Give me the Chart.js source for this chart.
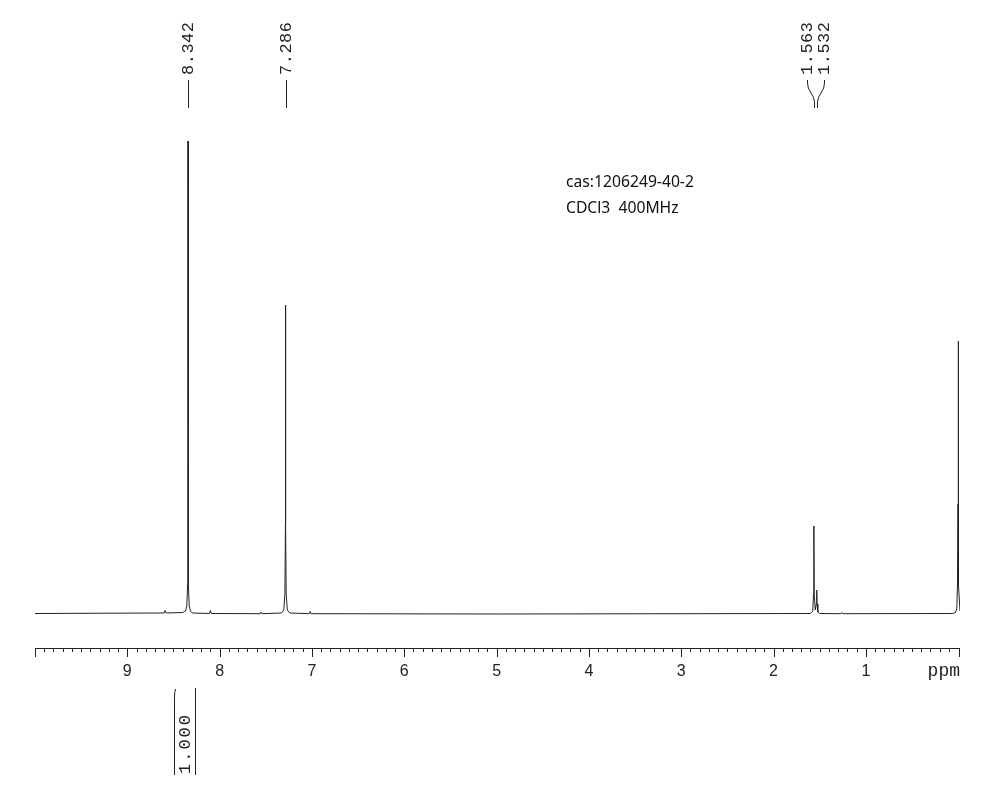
<!DOCTYPE html>
<html lang="en">
<head>
  <meta charset="UTF-8">
  <title>1H NMR</title>
  <script src="https://cdn.jsdelivr.net/npm/chart.js"></script>
  <style>
    body { margin: 0; background: #fff; }
    #wrap { width: 985px; height: 790px; }
  </style>
</head>
<body>
  <div id="wrap"><canvas id="nmrChart" width="985" height="790"></canvas></div>
<script>
  // spectrum points (ppm, relative intensity)
  const ppm = [10.0, 9.2, 8.60, 8.59, 8.58, 8.40, 8.37, 8.355, 8.347, 8.343, 8.342, 8.341, 8.337, 8.329, 8.315, 8.29,
    8.11, 8.10, 8.09, 7.56, 7.55, 7.54, 7.33, 7.305, 7.293, 7.287, 7.286, 7.285, 7.279, 7.267, 7.24,
    7.03, 7.02, 7.01, 5.0, 1.60, 1.575, 1.567, 1.563, 1.559, 1.548, 1.536, 1.532, 1.528, 1.52, 1.50,
    1.27, 1.26, 1.25, 0.06, 0.03, 0.015, 0.007, 0.001, 0.0, -0.001, -0.007, -0.02];
  const intensity = [0.5, 0.8, 1, 3.5, 1, 1.5, 3, 8, 30, 120, 473, 120, 30, 8, 2.5, 1,
    0.5, 3.5, 0.5, 0.3, 2, 0.3, 1, 4, 20, 90, 309, 90, 20, 4, 1,
    0.3, 2.5, 0.3, 0, 0.5, 3, 20, 88, 20, 4, 10, 24, 10, 2, 0.5,
    0.3, 1.5, 0.3, 0.5, 1.5, 5, 30, 110, 273, 110, 30, 3];

  // peak picking labels
  const peakPpm = [8.342, 7.286, 1.563, 1.532];
  const peakLabels = ['8.342', '7.286', '1.563', '1.532'];

  // integrals
  const integralFrom = [8.49];
  const integralTo = [8.27];
  const integralLabels = ['1.000'];

  // axis
  const majorTicks = [9, 8, 7, 6, 5, 4, 3, 2, 1];
  const tickLabels = ['9', '8', '7', '6', '5', '4', '3', '2', '1'];
  const axisUnit = 'ppm';

  const noteLines = ['cas:1206249-40-2', 'CDCl3  400MHz'];

  const points = ppm.map((p, i) => ({ x: p, y: intensity[i] }));

  const nmrDecor = {
    id: 'nmrDecor',
    afterDraw(chart) {
      const ctx = chart.ctx;
      const xs = chart.scales.x;
      const area = chart.chartArea;
      const axisY = area.bottom;
      ctx.save();
      ctx.strokeStyle = '#222';
      ctx.fillStyle = '#222';
      ctx.lineWidth = 1;

      // axis line
      ctx.beginPath();
      ctx.moveTo(area.left, axisY + 0.5);
      ctx.lineTo(area.right, axisY + 0.5);
      ctx.stroke();

      // minor ticks every 0.1 ppm
      ctx.beginPath();
      for (let i = 1; i < 100; i++) {
        if (i % 10 === 0) continue;
        const px = Math.round(xs.getPixelForValue(i / 10)) + 0.5;
        ctx.moveTo(px, axisY);
        ctx.lineTo(px, axisY + 4);
      }
      // major ticks + end ticks
      majorTicks.forEach(v => {
        const px = Math.round(xs.getPixelForValue(v)) + 0.5;
        ctx.moveTo(px, axisY);
        ctx.lineTo(px, axisY + 9);
      });
      [area.left, area.right - 1].forEach(px => {
        ctx.moveTo(Math.round(px) + 0.5, axisY);
        ctx.lineTo(Math.round(px) + 0.5, axisY + 9);
      });
      ctx.stroke();

      ctx.font = '16px "Liberation Sans"';
      ctx.textAlign = 'center';
      ctx.textBaseline = 'middle';
      majorTicks.forEach((v, i) => {
        ctx.fillText(tickLabels[i], xs.getPixelForValue(v), axisY + 24);
      });
      ctx.font = '18px "Liberation Mono"';
      ctx.textAlign = 'right';
      ctx.fillText(axisUnit, area.right, axisY + 23);

      // peak labels (spread when crowded)
      const peakPx = peakPpm.map(p => xs.getPixelForValue(p));
      const labelPx = peakPx.slice();
      const gap = 17;
      let start = 0;
      for (let i = 1; i <= peakPx.length; i++) {
        if (i === peakPx.length || peakPx[i] - peakPx[i - 1] > gap) {
          const n = i - start;
          if (n > 1) {
            let mean = 0;
            for (let k = start; k < i; k++) mean += peakPx[k];
            mean /= n;
            for (let k = start; k < i; k++) labelPx[k] = mean + (k - start - (n - 1) / 2) * gap;
          }
          start = i;
        }
      }
      ctx.font = '17px "Liberation Mono"';
      ctx.letterSpacing = '0.5px';
      ctx.textAlign = 'left';
      ctx.textBaseline = 'middle';
      peakLabels.forEach((t, i) => {
        ctx.save();
        ctx.translate(Math.round(labelPx[i]) + 0.5, 75);
        ctx.rotate(-Math.PI / 2);
        ctx.fillText(t, 0, 0);
        ctx.restore();
        const lx = Math.round(labelPx[i]) + 0.5;
        const px = Math.round(peakPx[i]) + 0.5;
        ctx.beginPath();
        ctx.moveTo(lx, 80);
        if (lx !== px) {
          ctx.lineTo(lx, 83);
          ctx.quadraticCurveTo(lx, 88, (lx + px) / 2, 93);
          ctx.quadraticCurveTo(px, 98, px, 102);
        }
        ctx.lineTo(px, 108);
        ctx.stroke();
      });

      // integrals under the axis
      ctx.letterSpacing = '2px';
      integralLabels.forEach((t, i) => {
        const a = Math.round(xs.getPixelForValue(integralFrom[i])) + 0.5;
        const b = Math.round(xs.getPixelForValue(integralTo[i])) + 0.5;
        ctx.beginPath();
        ctx.moveTo(a + 1, 689);
        ctx.quadraticCurveTo(a, 692, a, 698);
        ctx.lineTo(a, 775);
        ctx.moveTo(b, 688);
        ctx.lineTo(b, 775);
        ctx.stroke();
        ctx.save();
        ctx.translate((a + b) / 2, 774);
        ctx.rotate(-Math.PI / 2);
        ctx.fillText(t, 0, 0);
        ctx.restore();
      });
      ctx.letterSpacing = '0px';

      // sample note
      ctx.fillStyle = '#111';
      ctx.font = '15.7px "Noto Sans"';
      ctx.textAlign = 'left';
      noteLines.forEach((t, i) => ctx.fillText(t, 566, 183 + i * 26));
      ctx.restore();
    }
  };

  new Chart(document.getElementById('nmrChart').getContext('2d'), {
    type: 'scatter',
    data: {
      datasets: [{
        data: points,
        showLine: true,
        borderColor: '#222',
        borderWidth: 1,
        pointRadius: 0,
        tension: 0
      }]
    },
    options: {
      responsive: false,
      animation: false,
      devicePixelRatio: 1,
      layout: { padding: { left: 35, right: 25, top: 100, bottom: 142 } },
      plugins: { legend: { display: false }, tooltip: { enabled: false } },
      scales: {
        x: { type: 'linear', reverse: true, min: -0.02, max: 10, display: false },
        y: { min: -34, max: 514, display: false }
      }
    },
    plugins: [nmrDecor]
  });
</script>
</body>
</html>
